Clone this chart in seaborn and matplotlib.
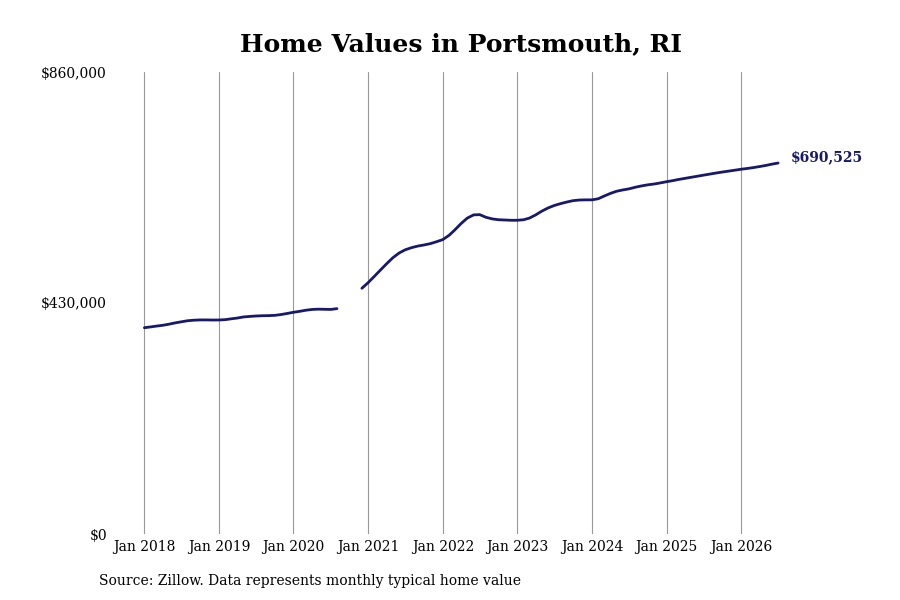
import matplotlib
matplotlib.use("Agg")

import matplotlib.pyplot as plt
import matplotlib.dates as mdates
import matplotlib.ticker as mticker
import numpy as np
import pandas as pd
import seaborn as sns

# -- data (monthly typical home value) ---------------------------------
months = pd.date_range("2018-01-01", "2026-07-01", freq="MS")
values = [
    # 2018
    384000, 385500, 387000, 388500, 390500, 393000, 395000, 397000, 398000, 398500, 398500, 398300,
    # 2019
    398400, 399000, 400500, 402000, 404000, 405000, 405800, 406300, 406500, 407000, 408500, 410500,
    # 2020
    412700, 414500, 416500, 418000, 418500, 418300, 418000, 419500, np.nan, np.nan, np.nan, 457400,
    # 2021
    468000, 480000, 491000, 503000, 514000, 523000, 529000, 533000, 536000, 538000, 540500, 544000,
    # 2022
    548000, 556000, 566000, 578000, 588000, 594000, 594500, 589500, 586500, 585000, 584500, 584000,
    # 2023
    584000, 585000, 588000, 594000, 601000, 607000, 611500, 615000, 618000, 620500, 621700, 622000,
    # 2024
    622000, 624000, 629000, 634000, 638000, 640500, 642500, 645500, 648000, 650000, 651500, 653500,
    # 2025
    655800, 657800, 660000, 662000, 664000, 666000, 668000, 670000, 672000, 673800, 675500, 677200,
    # 2026
    679000, 680500, 682000, 684000, 686000, 688500, 690525,
]
y_ticks = [0, 430000, 860000]
title = "Home Values in Portsmouth, RI"
source = "Source: Zillow. Data represents monthly typical home value"

LINE_COLOR = "#18186c"

df = pd.DataFrame({"date": months, "value": values})
# split into segments where data is missing so gaps are kept
df["segment"] = df["value"].isna().cumsum()
df = df.dropna()

sns.set_style("white")
plt.rcParams["font.family"] = ["DejaVu Serif"]
plt.rcParams["text.color"] = "black"
plt.rcParams["xtick.color"] = "#999999"
plt.rcParams["xtick.labelcolor"] = "black"
plt.rcParams["ytick.labelcolor"] = "black"

fig = plt.figure(figsize=(9, 6), dpi=100)
ax = fig.add_axes([0.125, 0.11, 0.755, 0.77])

sns.lineplot(data=df, x="date", y="value", units="segment", estimator=None,
             color=LINE_COLOR, linewidth=2.0, ax=ax)

ax.set_ylim(0, 860000)
ax.set_xlim(pd.Timestamp("2017-07-29"), pd.Timestamp("2026-09-07"))
ax.set_yticks(y_ticks)
ax.yaxis.set_major_formatter(mticker.FuncFormatter(lambda v, _: f"${v:,.0f}"))
ax.xaxis.set_major_locator(mdates.YearLocator())
ax.xaxis.set_major_formatter(mdates.DateFormatter("Jan %Y"))
ax.set_xlabel("")
ax.set_ylabel("")

ax.grid(axis="x", color="#999999", linewidth=0.8)
ax.grid(axis="y", visible=False)
for s in ax.spines.values():
    s.set_visible(False)
ax.tick_params(axis="x", length=0, labelsize=10, pad=4)
ax.tick_params(axis="y", length=0, labelsize=10, pad=4)

last = df.iloc[-1]
ax.annotate(f"${last['value']:,.0f}", (last["date"], last["value"]),
            xytext=(9, 4), textcoords="offset points", va="center",
            fontsize=10, fontweight="bold", color=LINE_COLOR)

fig.text(0.512, 0.927, title, ha="center", va="center", fontsize=18, fontweight="bold")
fig.text(0.11, 0.031, source, ha="left", va="center", fontsize=10)

fig.savefig("out.png", dpi=100)
